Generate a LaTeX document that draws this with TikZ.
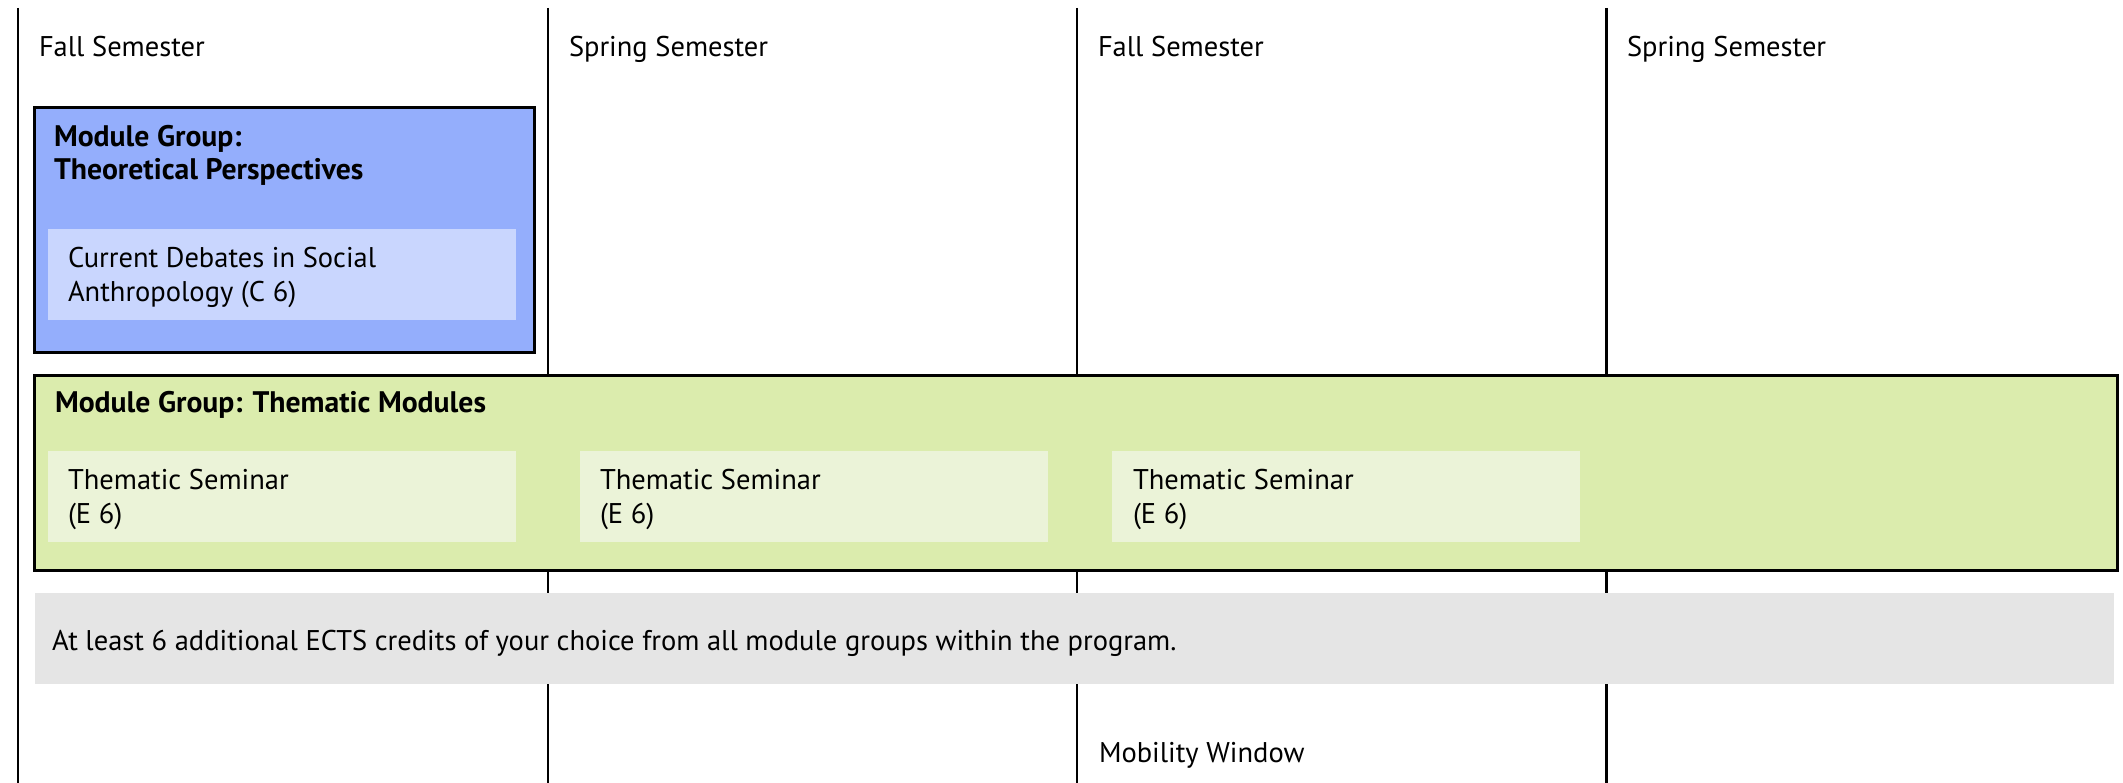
\documentclass[tikz,border=0pt]{standalone}
\usepackage{fontspec}
\setmainfont{PT Sans}
\definecolor{blueG}{RGB}{148,174,252}
\definecolor{blueM}{RGB}{201,214,254}
\definecolor{greenG}{RGB}{219,236,173}
\definecolor{greenM}{RGB}{235,243,216}
\definecolor{grayG}{RGB}{229,229,229}
\begin{document}
\begin{tikzpicture}[x=1pt,y=-1pt,
  sem/.style={draw=black,line width=2.5pt},
  grp/.style={draw=black,line width=3pt,anchor=north west,inner sep=0pt,outer sep=0pt},
  modbox/.style={anchor=north west,inner sep=0pt,outer sep=0pt,draw=none},
  txt/.style={anchor=base west,inner sep=0pt,outer sep=0pt,font=\fontsize{28.5}{33}\selectfont},
  btxt/.style={txt,font=\fontsize{29.7}{33}\selectfont\bfseries}]
\useasboundingbox (0,0) rectangle (2123,783);
% semester columns
\coordinate (c1t) at (18,8);  \coordinate (c1b) at (18,783);
\coordinate (c2t) at (548,8); \coordinate (c2b) at (548,783);
\coordinate (c3t) at (1077,8); \coordinate (c3b) at (1077,783);
\coordinate (c4t) at (1606.5,8); \coordinate (c4b) at (1606.5,783);
\draw[sem] (c1t) -- (c1b);
\draw[sem] (c2t) -- (c2b);
\draw[sem] (c3t) -- (c3b);
\draw[sem] (c4t) -- (c4b);
\node[txt] (s1) at (39,57) {Fall Semester};
\node[txt] (s2) at (569,57) {Spring Semester};
\node[txt] (s3) at (1098,57) {Fall Semester};
\node[txt] (s4) at (1627,57) {Spring Semester};
% theoretical perspectives
\node[grp,fill=blueG,minimum width=499.5pt,minimum height=245pt] (tp) at (34.5,108) {};
\node[btxt] (tpt1) at (54,147) {Module Group:};
\node[btxt] (tpt2) at (54,180) {Theoretical Perspectives};
\node[modbox,fill=blueM,minimum width=468pt,minimum height=91pt] (cd) at (48,229) {};
\node[txt] (cd1) at (68,268) {Current Debates in Social};
\node[txt] (cd2) at (68,302) {Anthropology (C 6)};
% thematic modules
\node[grp,fill=greenG,minimum width=2082.5pt,minimum height=194pt] (tm) at (34.5,376) {};
\node[btxt] (tmt) at (55,413) {Module Group: Thematic Modules};
\node[modbox,fill=greenM,minimum width=468pt,minimum height=91pt] (ts1) at (48,451) {};
\node[modbox,fill=greenM,minimum width=468pt,minimum height=91pt] (ts2) at (580,451) {};
\node[modbox,fill=greenM,minimum width=468pt,minimum height=91pt] (ts3) at (1112,451) {};
\node[txt] (ts1a) at (68,489) {Thematic Seminar};
\node[txt] (ts1b) at (68,523) {(E 6)};
\node[txt] (ts2a) at (600,489) {Thematic Seminar};
\node[txt] (ts2b) at (600,523) {(E 6)};
\node[txt] (ts3a) at (1133,489) {Thematic Seminar};
\node[txt] (ts3b) at (1133,523) {(E 6)};
% electives
\node[modbox,fill=grayG,minimum width=2079.5pt,minimum height=91pt] (el) at (34.5,593) {};
\node[txt] (elt) at (52,650) {At least 6 additional ECTS credits of your choice from all module groups within the program.};
% mobility
\node[txt] (mw) at (1099,762) {Mobility Window};
\end{tikzpicture}
\end{document}
